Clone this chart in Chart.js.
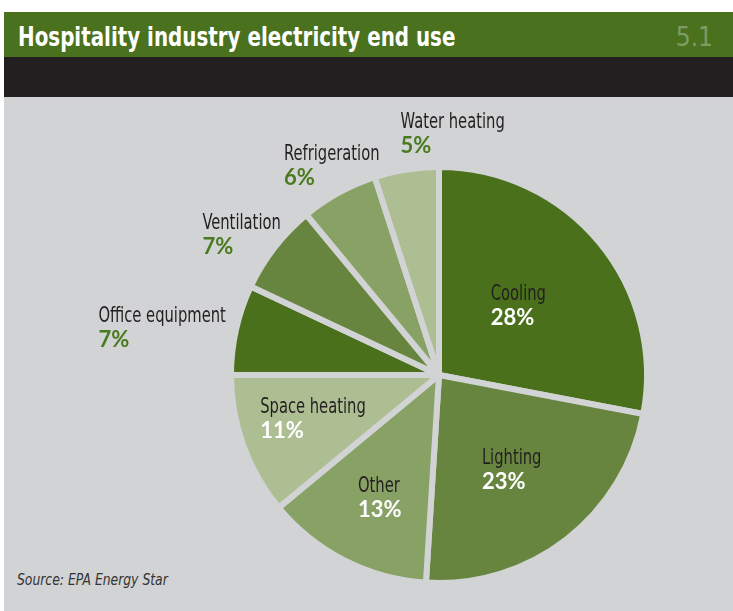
<!DOCTYPE html>
<html>
<head>
<meta charset="utf-8">
<script src="https://cdn.jsdelivr.net/npm/chart.js@4"></script>
<style>
  body { margin: 0; width: 733px; height: 611px; background: #fff; overflow: hidden; position: relative; font-family: "Liberation Sans Narrow", "DejaVu Sans Condensed", sans-serif; }
  #head { position: absolute; left: 4px; top: 12px; width: 729px; height: 45px; background: #4a711e; }
  #band { position: absolute; left: 4px; top: 57px; width: 729px; height: 40px; background: #231f20; }
  #panel { position: absolute; left: 4px; top: 97px; width: 729px; height: 514px; background: #d1d3d4; }
  #title { position: absolute; left: 18px; top: 22px; color: #fff; font-weight: bold; font-size: 26px; line-height: 30px; white-space: nowrap; transform: scaleX(0.85); transform-origin: left top; }
  #num { position: absolute; right: 20px; top: 22px; color: #7e9c62; font-size: 26px; line-height: 30px; }
  #source { position: absolute; left: 17px; top: 570px; color: #333; font-style: italic; font-size: 16px; line-height: 20px; white-space: nowrap; transform: scaleX(0.86); transform-origin: left top; }
  #chart { position: absolute; left: 0; top: 0; }
</style>
</head>
<body>
<div id="head"></div>
<div id="band"></div>
<div id="panel"></div>
<div id="title">Hospitality industry electricity end use</div>
<div id="num">5.1</div>
<div id="source">Source: EPA Energy Star</div>
<canvas id="chart" width="733" height="611"></canvas>
<script>
  'use strict'

  const categories = ['Cooling', 'Lighting', 'Other', 'Space heating', 'Office equipment', 'Ventilation', 'Refrigeration', 'Water heating']
  const shares = [28, 23, 13, 11, 7, 7, 6, 5]

  const sliceColors = ['#4a701b', '#67853e', '#87a264', '#adbe92', '#4a701b', '#67853e', '#87a264', '#adbe92']

  // where each label block sits: radius factor, angle tweak (deg), anchor side
  const placement = {
    'Cooling': { k: 0.51, a: -2, side: 'mid', inside: true },
    'Lighting': { k: 0.57, a: 0, side: 'mid', inside: true },
    'Other': { k: 0.65, a: -1, side: 'mid', inside: true },
    'Space heating': { k: 0.64, a: 1, side: 'mid', inside: true },
    'Office equipment': { k: 1.05, a: 0, side: 'right' },
    'Ventilation': { k: 1.02, a: 4, side: 'right' },
    'Refrigeration': { k: 1.05, a: 13, side: 'right' },
    'Water heating': { k: 1.18, a: 0, side: 'left' }
  }

  const labelFont = '21px "Liberation Sans Narrow", "DejaVu Sans Condensed", sans-serif'
  const labelSqueeze = 0.78
  const pctFont = 'bold 22px Lato, "Open Sans", sans-serif'

  const sliceLabels = {
    id: 'sliceLabels',
    afterDatasetsDraw(chart) {
      const { ctx } = chart
      const meta = chart.getDatasetMeta(0)
      meta.data.forEach((arc, i) => {
        const name = categories[i]
        const p = placement[name]
        const mid = (arc.startAngle + arc.endAngle) / 2 + p.a * Math.PI / 180
        const r = arc.outerRadius * p.k
        const x = arc.x + Math.cos(mid) * r
        const y = arc.y + Math.sin(mid) * r
        const pct = shares[i] + '%'

        ctx.save()
        ctx.font = labelFont
        const w1 = ctx.measureText(name).width * labelSqueeze
        ctx.font = pctFont
        const w2 = ctx.measureText(pct).width
        const w = Math.max(w1, w2)
        let left = x
        if (p.side === 'mid') left = x - w / 2
        else if (p.side === 'right') left = x - w
        ctx.textAlign = 'left'
        ctx.textBaseline = 'alphabetic'

        ctx.save()
        ctx.translate(left, y - 5)
        ctx.scale(labelSqueeze, 1)
        ctx.font = labelFont
        ctx.fillStyle = '#231f20'
        ctx.fillText(name, 0, 0)
        ctx.restore()

        ctx.font = pctFont
        ctx.fillStyle = p.inside ? '#ffffff' : '#4a7a1e'
        ctx.fillText(pct, left, y + 20)
        ctx.restore()
      })
    }
  }

  const ctx = document.getElementById('chart')

  const myChart = new Chart(ctx, {
    type: 'pie',
    data: {
      labels: categories,
      datasets: [{
        data: shares,
        backgroundColor: sliceColors,
        borderColor: '#d1d3d4',
        borderWidth: 6,
        hoverBorderWidth: 6
      }]
    },
    options: {
      responsive: false,
      animation: false,
      layout: {
        padding: { left: 228, top: 164, right: 83, bottom: 25 }
      },
      plugins: {
        legend: { display: false },
        tooltip: { enabled: false }
      }
    },
    plugins: [sliceLabels]
  })
</script>
</body>
</html>
